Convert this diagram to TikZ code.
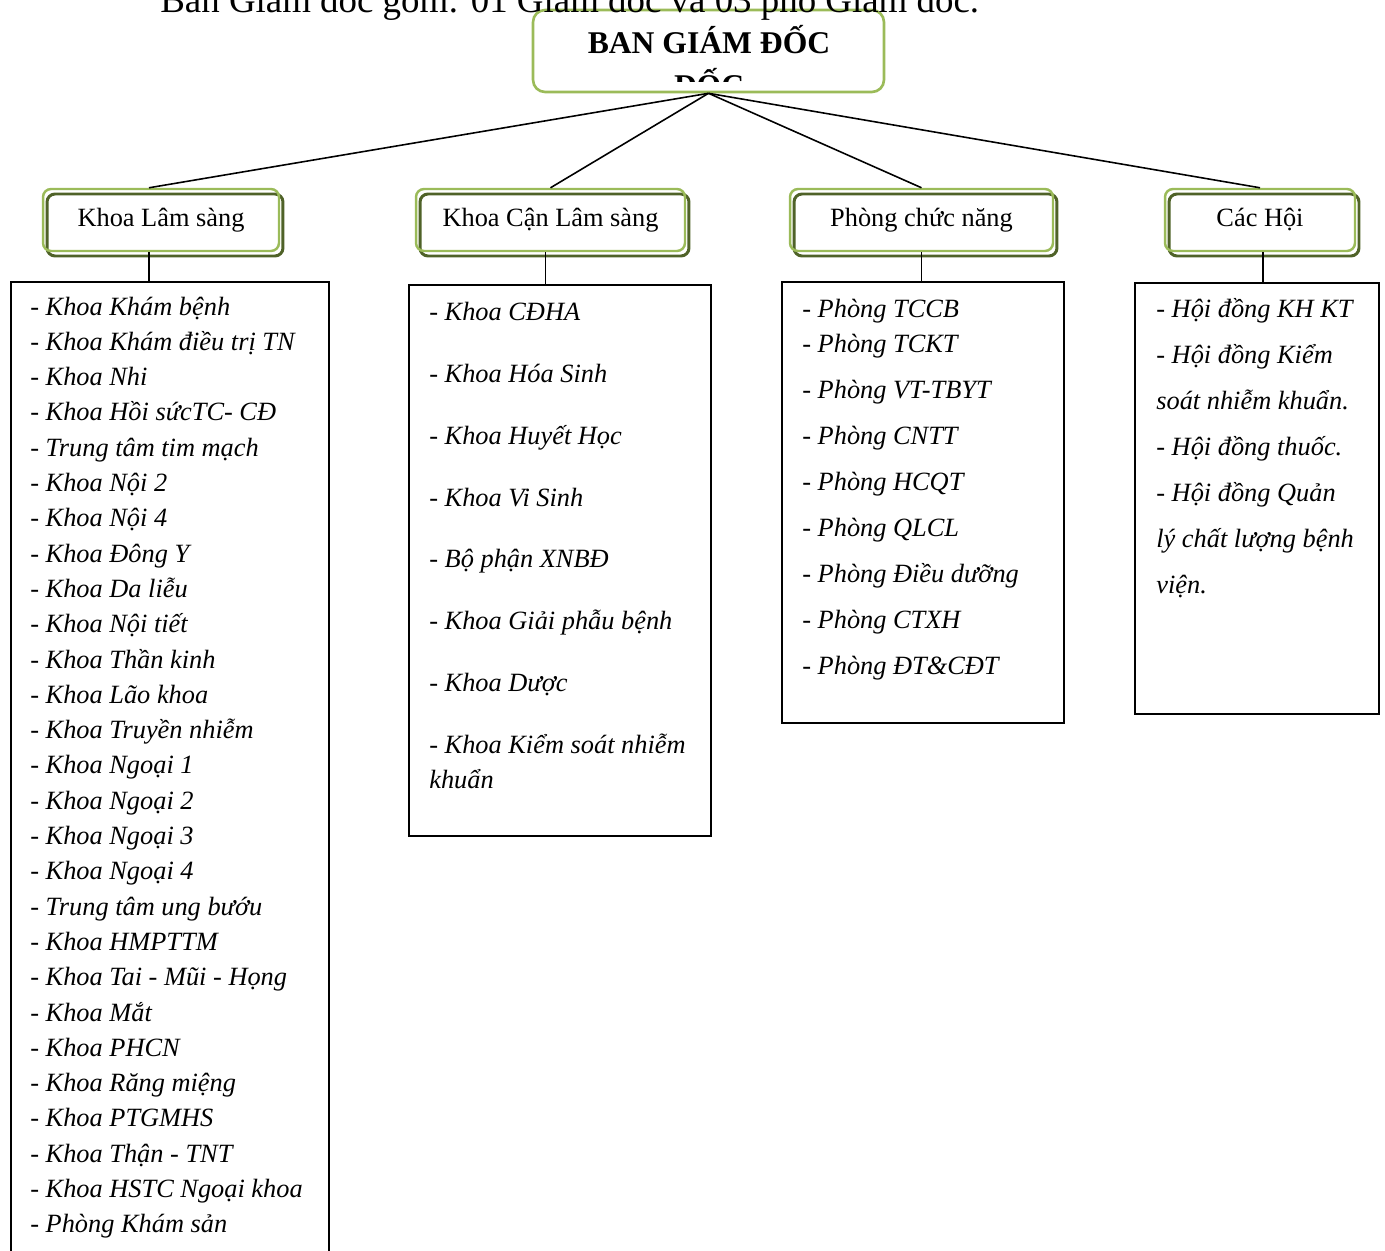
\documentclass[tikz,border=0pt]{standalone}
\usepackage{fontspec}
\setmainfont{Liberation Serif}
\usetikzlibrary{positioning,calc}
\definecolor{Leaf}{HTML}{9BBB59}
\definecolor{Olive}{HTML}{4F6228}
\tikzset{
  chief/.style={draw=Leaf,line width=1.5pt,rounded corners=.24cm,minimum width=7.02cm,minimum height=1.64cm,inner sep=0pt},
  unit/.style={draw=Leaf,line width=1.4pt,rounded corners=.16cm,minimum height=1.24cm,inner sep=0pt,font=\fontsize{15}{18}\selectfont,
    preaction={draw=Olive,line width=1.7pt,transform canvas={xshift=.08cm,yshift=-.1cm}}},
  listbox/.style={draw=black,line width=1pt,anchor=north west,inner sep=0pt},
  entry/.style={anchor=base west,inner sep=0pt,font=\fontsize{15}{18}\selectfont\itshape},
  branch/.style={draw=black,line width=.9pt}
}
\begin{document}
\begin{tikzpicture}[x=.02cm,y=-.02cm]
  \useasboundingbox (0,0) rectangle (1385,1250);
  \node[chief] (bgd) at (708.5,51) {};
  \node[anchor=base,inner sep=0pt,font=\fontsize{18}{22}\selectfont\bfseries] (bgdname) at (709,54) {BAN GIÁM ĐỐC};
  \begin{scope}
    \clip (540,60) rectangle (880,82);
    \node[anchor=base,inner sep=0pt,font=\fontsize{18}{22}\selectfont\bfseries] (bgdcut) at (709,97) {ĐỐC};
  \end{scope}
  \node[anchor=base west,inner sep=0pt,font=\fontsize{21}{25}\selectfont] (intro) at (160,13) {Ban Giám đốc gồm: 01 Giám đốc và 03 phó Giám đốc.};
  \node[unit,minimum width=4.72cm] (lam) at (161,220) {Khoa Lâm sàng};
  \node[unit,minimum width=5.38cm] (canlam) at (550.5,220) {Khoa Cận Lâm sàng};
  \node[unit,minimum width=5.26cm] (phong) at (921.5,220) {Phòng chức năng};
  \node[unit,minimum width=3.8cm] (hoi) at (1260,220) {Các Hội};
  \draw[branch] (bgd.south) -- ($(lam.north)+(-12,0)$);
  \draw[branch] (bgd.south) -- (canlam.north);
  \draw[branch] (bgd.south) -- (phong.north);
  \draw[branch] (bgd.south) -- (hoi.north);
  \node[listbox,minimum width=6.36cm,minimum height=19.9cm] (lamlist) at (10,281) {};
  \node[listbox,minimum width=6.04cm,minimum height=11.02cm] (canlamlist) at (408,284) {};
  \node[listbox,minimum width=5.64cm,minimum height=8.82cm] (phonglist) at (781,281) {};
  \node[listbox,minimum width=4.88cm,minimum height=8.62cm] (hoilist) at (1134,282) {};
  \coordinate (lamdrop) at ($(lam.south)+(-12,0)$);
  \coordinate (canlamdrop) at ($(canlam.south)+(-5,0)$);
  \coordinate (phongdrop) at (phong.south);
  \coordinate (hoidrop) at ($(hoi.south)+(3,0)$);
  \draw[branch] (lamdrop) -- (lamdrop |- lamlist.north);
  \draw[branch] (canlamdrop) -- (canlamdrop |- canlamlist.north);
  \draw[branch] (phongdrop) -- (phongdrop |- phonglist.north);
  \draw[branch] (hoidrop) -- (hoidrop |- hoilist.north);
  \foreach \t [count=\i from 0] in {- Khoa Khám bệnh,- Khoa Khám điều trị TN,- Khoa Nhi,- Khoa Hồi sứcTC- CĐ,- Trung tâm tim mạch,- Khoa Nội 2,- Khoa Nội 4,- Khoa Đông Y,- Khoa Da liễu,- Khoa Nội tiết,- Khoa Thần kinh,- Khoa Lão khoa,- Khoa Truyền nhiễm,- Khoa Ngoại 1,- Khoa Ngoại 2,- Khoa Ngoại 3,- Khoa Ngoại 4,- Trung tâm ung bướu,- Khoa HMPTTM,- Khoa Tai - Mũi - Họng,- Khoa Mắt,- Khoa PHCN,- Khoa Răng miệng,- Khoa PTGMHS,- Khoa Thận - TNT,- Khoa HSTC Ngoại khoa,- Phòng Khám sản}
    \node[entry] (lamitem\i) at (30,315+35.3*\i) {\t};
  \foreach \y/\t [count=\i] in {320/- Khoa CĐHA,382/- Khoa Hóa Sinh,444/- Khoa Huyết Học,506/- Khoa Vi Sinh,567/- Bộ phận XNBĐ,629/- Khoa Giải phẫu bệnh,691/- Khoa Dược,753/- Khoa Kiểm soát nhiễm,788/khuẩn}
    \node[entry] (canlamitem\i) at (429,\y) {\t};
  \foreach \y/\t [count=\i] in {317/- Phòng TCCB,352/- Phòng TCKT,398/- Phòng VT-TBYT,444/- Phòng CNTT,490/- Phòng HCQT,536/- Phòng QLCL,582/- Phòng Điều dưỡng,628/- Phòng CTXH,674/- Phòng ĐT\&CĐT}
    \node[entry] (phongitem\i) at (802,\y) {\t};
  \foreach \y/\t [count=\i] in {317/- Hội đồng KH KT,363/- Hội đồng Kiểm,409/soát nhiễm khuẩn.,455/- Hội đồng thuốc.,501/- Hội đồng Quản,547/lý chất lượng bệnh,593/viện.}
    \node[entry] (hoiitem\i) at (1156,\y) {\t};
\end{tikzpicture}
\end{document}
